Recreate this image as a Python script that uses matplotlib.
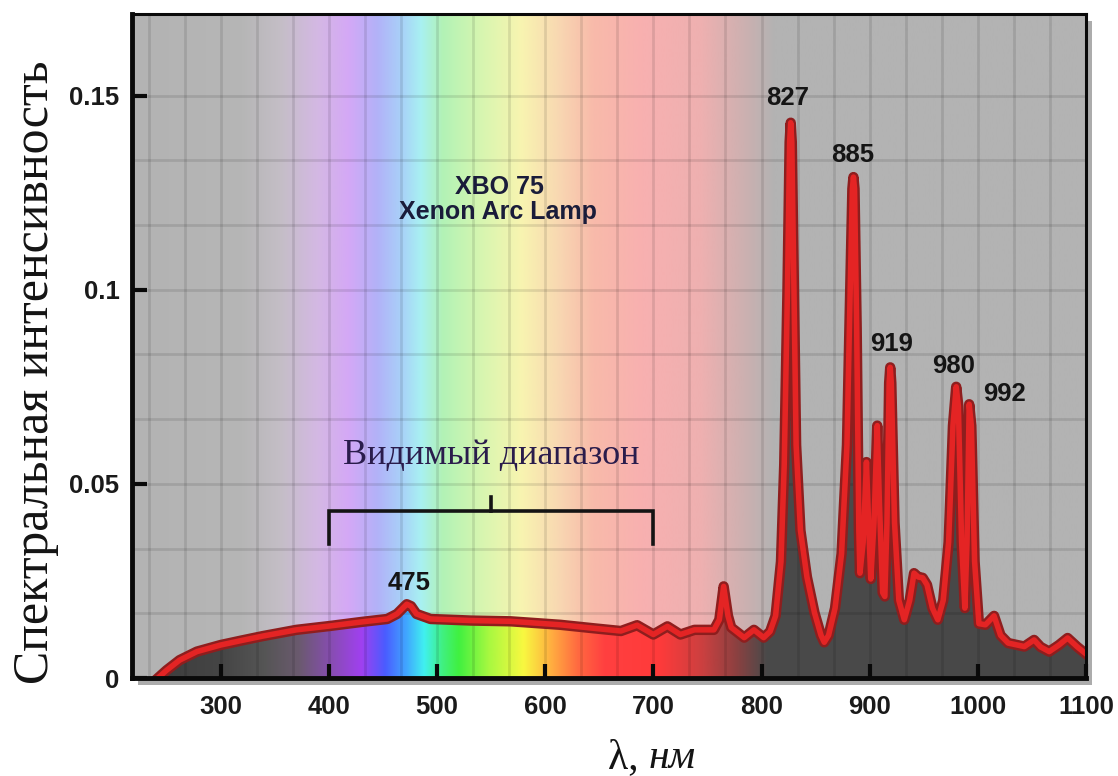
import numpy as np
import matplotlib
matplotlib.use("Agg")
import matplotlib.pyplot as plt
from matplotlib.patches import Polygon, Rectangle
import matplotlib.patheffects as pe
from matplotlib.colors import to_rgb

# ---------------- data ----------------
wavelength = [242, 250, 262, 278, 300, 320, 339, 370, 401, 432, 454, 463, 472, 476,
              481, 494, 531, 568, 614, 645, 670, 685, 700, 713, 725, 738, 756, 761,
              765, 769, 772, 784, 793, 802, 808, 813, 818, 821, 824, 826, 827, 828,
              830, 832, 836, 842, 849, 855, 858, 862, 868, 874, 879, 882, 884, 885,
              886, 888, 890, 891, 894, 897, 899, 901, 904, 907, 909, 912, 914, 916,
              918, 919, 920, 923, 927, 932, 937, 941, 945, 949, 953, 958, 963, 968,
              973, 977, 980, 982, 985, 988, 990, 992, 994, 997, 1001, 1007, 1015,
              1021, 1028, 1043, 1052, 1058, 1066, 1075, 1083, 1092, 1100]
intensity = [0.0000, 0.0020, 0.0046, 0.0068, 0.0085, 0.0097, 0.0108, 0.0124, 0.0134,
             0.0145, 0.0152, 0.0165, 0.0190, 0.0185, 0.0165, 0.0152, 0.0148, 0.0146,
             0.0137, 0.0128, 0.0121, 0.0136, 0.0112, 0.0133, 0.0112, 0.0124, 0.0124,
             0.0150, 0.0236, 0.0160, 0.0130, 0.0104, 0.0124, 0.0104, 0.0120, 0.0160,
             0.0300, 0.0550, 0.1000, 0.1380, 0.1430, 0.1380, 0.1000, 0.0600, 0.0380,
             0.0260, 0.0168, 0.0110, 0.0092, 0.0110, 0.0180, 0.0320, 0.0600, 0.1000,
             0.1260, 0.1290, 0.1260, 0.0900, 0.0380, 0.0270, 0.0350, 0.0556, 0.0400,
             0.0255, 0.0400, 0.0650, 0.0450, 0.0220, 0.0210, 0.0400, 0.0760, 0.0800,
             0.0760, 0.0400, 0.0200, 0.0150, 0.0200, 0.0270, 0.0260, 0.0258, 0.0240,
             0.0180, 0.0150, 0.0200, 0.0350, 0.0650, 0.0750, 0.0700, 0.0350, 0.0180,
             0.0350, 0.0705, 0.0650, 0.0300, 0.0140, 0.0137, 0.0160, 0.0110, 0.0090,
             0.0081, 0.0098, 0.0080, 0.0068, 0.0085, 0.0103, 0.0080, 0.0062]

peak_labels = ["475", "827", "885", "919", "980", "992"]
peak_label_x = [474, 824.5, 884, 920, 978, 1025]
peak_label_y = [0.0245, 0.1494, 0.1347, 0.0860, 0.0804, 0.0731]

x_ticks = [300, 400, 500, 600, 700, 800, 900, 1000, 1100]
y_ticks = [0, 0.05, 0.1, 0.15]
y_tick_labels = ["0", "0.05", "0.1", "0.15"]
visible_range = [400, 700]

title_lines = ["XBO 75", "Xenon Arc Lamp"]
visible_label = "Видимый диапазон"
y_label = "Спектральная интенсивность"

XMIN, XMAX, YMAX = 218, 1100, 0.171

# ---------------- figure ----------------
W, H = 1118, 776
fig = plt.figure(figsize=(W / 100, H / 100), dpi=100)
fig.patch.set_facecolor("white")
ax_l, ax_r, ax_t, ax_b = 132, 1086, 14, 678
ax = fig.add_axes([ax_l / W, 1 - ax_b / H, (ax_r - ax_l) / W, (ax_b - ax_t) / H])

# drop shadow
sh = Rectangle(((ax_l + 6) / W, 1 - (ax_b + 7) / H), (ax_r - ax_l) / W, (ax_b - ax_t) / H,
               transform=fig.transFigure, facecolor="#acacac", edgecolor="none", zorder=-5)
fig.patches.append(sh)

ax.set_xlim(XMIN, XMAX)
ax.set_ylim(0, YMAX)

# background pastel spectrum
xs = np.linspace(XMIN, XMAX, 1500)
bg_stops = [(218, "#b3b3b3"), (320, "#b6b6b6"), (355, "#c4bec6"), (390, "#d4b8e4"),
            (418, "#d4a8f6"), (445, "#b2b2f8"), (468, "#a8d2f8"), (485, "#a8f0f2"),
            (505, "#b2f2b6"), (540, "#d6f6b0"), (578, "#f8f4b0"), (612, "#f8d8b2"),
            (645, "#f8baaa"), (690, "#f8b0b0"), (745, "#eeb0b0"), (785, "#ccb0b0"),
            (812, "#b3b3b3"), (1100, "#b3b3b3")]
fg_stops = [(218, "#3a3a3a"), (300, "#454545"), (340, "#555555"), (372, "#6a5a6e"),
            (405, "#8a4cb8"), (430, "#a040f0"), (452, "#4a5cff"), (472, "#40a8ff"),
            (488, "#40f0f0"), (505, "#40f080"), (520, "#40f040"), (548, "#a8f840"),
            (580, "#f8f840"), (605, "#ffb040"), (630, "#ff6a40"), (655, "#ff4040"),
            (705, "#ff3a3a"), (745, "#cc4040"), (775, "#904040"), (805, "#4a4a4a"),
            (1100, "#474747")]


def grad(stops):
    px = [s[0] for s in stops]
    cols = np.array([to_rgb(s[1]) for s in stops])
    img = np.stack([np.interp(xs, px, cols[:, k]) for k in range(3)], axis=-1)
    return img[None, :, :]


ax.imshow(grad(bg_stops), extent=[XMIN, XMAX, 0, YMAX], aspect="auto", zorder=0,
          interpolation="bilinear")
fg = ax.imshow(grad(fg_stops), extent=[XMIN, XMAX, 0, YMAX], aspect="auto", zorder=1,
               interpolation="bilinear")
wl = np.array(wavelength, float)
it = np.array(intensity, float)
verts = np.column_stack([np.r_[wl, wl[::-1]], np.r_[it, np.zeros_like(it)]])
clip = Polygon(verts, closed=True, transform=ax.transData, facecolor="none", edgecolor="none")
ax.add_patch(clip)
fg.set_clip_path(clip)

# grid (every 1/3 of a major step)
gx = np.arange(1, 27) * (100 / 3) + 200
gx = gx[(gx > XMIN) & (gx < XMAX)]
gy = np.arange(1, 10) * (0.05 / 3)
gy = gy[gy < 0.155]
for v in gx:
    ax.axvline(v, color="black", alpha=0.10, lw=2, zorder=2)
for v in gy:
    ax.axhline(v, color="black", alpha=0.10, lw=2, zorder=2)

# spectrum curve
ax.plot(wl, it, color="#e42424", lw=4, solid_joinstyle="round", zorder=4,
        path_effects=[pe.Stroke(linewidth=7.5, foreground="#8e1e1e"), pe.Normal()])

# peak labels
for lab, px_, py_ in zip(peak_labels, peak_label_x, peak_label_y):
    ax.text(px_, py_, lab, ha="center", va="center", fontsize=18.5, fontweight="bold",
            family="Liberation Sans", color="#151515", zorder=6)

# title
ax.text(558, 0.1265, title_lines[0], ha="center", va="center", fontsize=18,
        fontweight="bold", family="Liberation Sans", color="#1a1c3a", zorder=6)
ax.text(556, 0.1200, title_lines[1], ha="center", va="center", fontsize=18,
        fontweight="bold", family="Liberation Sans", color="#1a1c3a", zorder=6)

# visible range bracket
v0, v1 = visible_range
vm = (v0 + v1) / 2
ax.plot([v0, v0, v1, v1], [0.0344, 0.0430, 0.0430, 0.0344], color="#141414", lw=2.6,
        zorder=6, solid_joinstyle="miter")
ax.plot([vm, vm], [0.0430, 0.0466], color="#141414", lw=2.6, zorder=6)
ax.text(vm, 0.0572, visible_label, ha="center", va="center", fontsize=26,
        family="Liberation Serif", color="#2a1c4c", zorder=6)

# axes styling
for side in ["left", "bottom"]:
    ax.spines[side].set_linewidth(3.5)
for side in ["top", "right"]:
    ax.spines[side].set_linewidth(2.2)
for s in ax.spines.values():
    s.set_color("#0a0a0a")
    s.set_zorder(7)

ax.set_xticks(x_ticks)
ax.set_xticklabels([str(v) for v in x_ticks])
ax.set_yticks(y_ticks)
ax.set_yticklabels(y_tick_labels)
ax.tick_params(which="major", direction="in", width=3, color="#0a0a0a")
ax.tick_params(axis="x", which="major", length=10, pad=12)
ax.tick_params(axis="y", which="major", length=11, pad=9)
for lab in ax.get_xticklabels() + ax.get_yticklabels():
    lab.set_fontfamily("Liberation Sans")
    lab.set_fontweight("bold")
    lab.set_fontsize(18.5)
    lab.set_color("#1a1a1a")

# y label
fig.text(36 / W, 1 - 372 / H, y_label, rotation=90, ha="center", va="center",
         fontsize=36, family="Liberation Serif", color="#141414")

# x label: upright lambda + italic units
t1 = fig.text(608 / W, 1 - 768 / H, "λ, ", ha="left", va="baseline", fontsize=30,
              family="Liberation Serif", color="#141414")
fig.canvas.draw()
bb = t1.get_window_extent()
fig.text(bb.x1 / W, 1 - 768 / H, "нм", ha="left", va="baseline", fontsize=30,
         family="Liberation Serif", style="italic", color="#141414")

fig.savefig("out.png", dpi=100)
